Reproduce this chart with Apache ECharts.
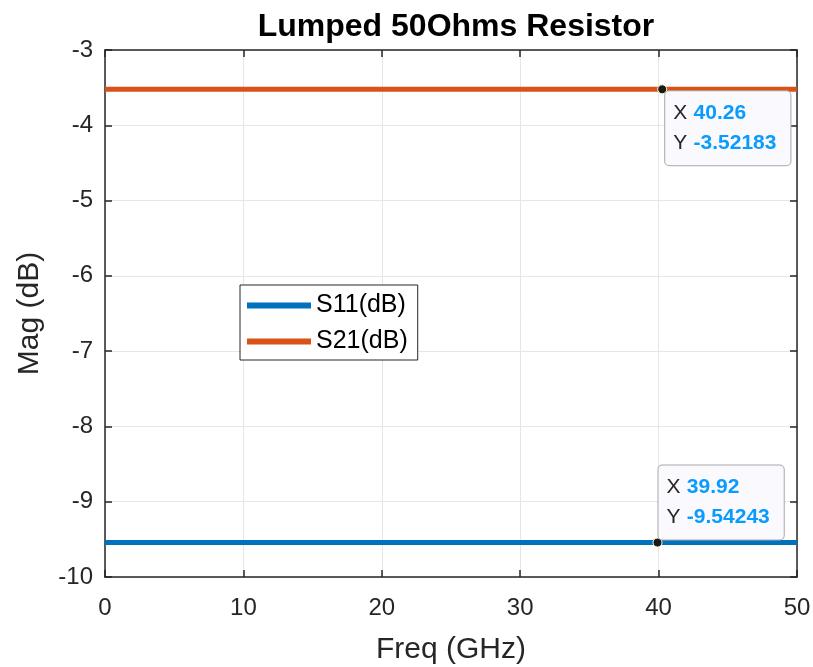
<!DOCTYPE html>
<html>
<head>
<meta charset="utf-8">
<script src="https://cdn.jsdelivr.net/npm/echarts@6/dist/echarts.min.js"></script>
<style>
  html, body { margin: 0; padding: 0; background: #fff; }
  #chart { width: 813px; height: 667px; }
</style>
</head>
<body>
<div id="chart"></div>
<script>
const freq = [0, 10, 20, 30, 39.92, 40.26, 50];
const s11 = [-9.54243, -9.54243, -9.54243, -9.54243, -9.54243, -9.54243, -9.54243];
const s21 = [-3.52183, -3.52183, -3.52183, -3.52183, -3.52183, -3.52183, -3.52183];
const tipS11 = [39.92, -9.54243];
const tipS21 = [40.26, -3.52183];
const xTicks = [0, 10, 20, 30, 40, 50];
const yTicks = [-10, -9, -8, -7, -6, -5, -4, -3];

const font = "Liberation Sans, Arial, sans-serif";
const axisColor = "#262626";

function pairs(xs, ys) {
  return xs.map((x, i) => [x, ys[i]]);
}

// datatip: black dot + box with X / Y readout
function tip(coord, above) {
  return {
    symbol: "circle",
    symbolSize: 9,
    itemStyle: { color: "#1a1a1a", borderColor: "#ffffd8", borderWidth: 1 },
    data: [{ coord: coord }],
    label: {
      show: true,
      position: above ? [6, 2] : [8, 7],
      verticalAlign: above ? "bottom" : "top",
      align: "left",
      backgroundColor: "#f9f9fe",
      borderColor: "#a8a8a8",
      borderWidth: 1,
      borderRadius: 4,
      padding: [7, 14, 7, 8],
      formatter: () => "{k|X} {v|" + coord[0] + "}\n{k|Y} {v|" + coord[1] + "}",
      rich: {
        k: { fontFamily: font, fontSize: 21, color: axisColor, lineHeight: 30, padding: [0, 3, 0, 0] },
        v: { fontFamily: font, fontSize: 21, fontWeight: "bold", color: "#0a9bff", lineHeight: 30 }
      }
    }
  };
}

const chart = echarts.init(document.getElementById("chart"));

const axisBase = {
  type: "value",
  axisLine: { show: true, onZero: false, lineStyle: { color: axisColor, width: 1.5 } },
  axisTick: { show: true, inside: true, length: 7, lineStyle: { color: axisColor, width: 1.5 } },
};

chart.setOption({
  animation: false,
  title: {
    text: "Lumped 50Ohms Resistor",
    left: 451,
    textAlign: "center",
    top: 6,
    textStyle: { fontFamily: font, fontSize: 32, fontWeight: "bold", color: "#000" }
  },
  grid: { left: 105, right: 16, top: 50, bottom: 90, outerBoundsMode: "none", containLabel: false },
  legend: {
    left: 240,
    top: 285,
    orient: "vertical",
    icon: "rect",
    itemWidth: 64,
    itemHeight: 6,
    itemGap: 11,
    padding: [8, 10, 6, 7],
    backgroundColor: "#fff",
    borderColor: axisColor,
    borderWidth: 1,
    borderRadius: 0,
    textStyle: { fontFamily: font, fontSize: 25, color: "#000" },
    data: ["S11(dB)", "S21(dB)"]
  },
  xAxis: [
    Object.assign({}, axisBase, {
      min: 0, max: 50, interval: 10,
      name: "Freq (GHz)",
      nameLocation: "middle",
      nameGap: 58,
      nameTextStyle: { fontFamily: font, fontSize: 30, color: axisColor },
      axisLabel: {
        fontFamily: font, fontSize: 24, color: axisColor, margin: 19,
        formatter: (v) => (xTicks.includes(v) ? String(v) : "")
      },
      splitLine: { show: true, lineStyle: { color: "#e6e6e6", width: 1 } }
    }),
    Object.assign({}, axisBase, {
      position: "top",
      min: 0, max: 50, interval: 10,
      axisLabel: { show: false },
      splitLine: { show: false }
    })
  ],
  yAxis: [
    Object.assign({}, axisBase, {
      min: -10, max: -3, interval: 1,
      name: "Mag (dB)",
      nameLocation: "middle",
      nameGap: 60,
      nameTextStyle: { fontFamily: font, fontSize: 30, color: axisColor },
      axisLabel: {
        fontFamily: font, fontSize: 24, color: axisColor, margin: 12,
        formatter: (v) => (yTicks.includes(v) ? String(v) : "")
      },
      splitLine: { show: true, lineStyle: { color: "#e6e6e6", width: 1 } }
    }),
    Object.assign({}, axisBase, {
      position: "right",
      min: -10, max: -3, interval: 1,
      axisLabel: { show: false },
      splitLine: { show: false }
    })
  ],
  series: [
    {
      name: "S11(dB)",
      type: "line",
      data: pairs(freq, s11),
      showSymbol: false,
      color: "#0072bd",
      lineStyle: { width: 5, color: "#0072bd" },
      markPoint: tip(tipS11, true),
      z: 3
    },
    {
      name: "S21(dB)",
      type: "line",
      data: pairs(freq, s21),
      showSymbol: false,
      color: "#d95319",
      lineStyle: { width: 5, color: "#d95319" },
      markPoint: tip(tipS21, false),
      z: 3
    }
  ]
});
</script>
</body>
</html>
